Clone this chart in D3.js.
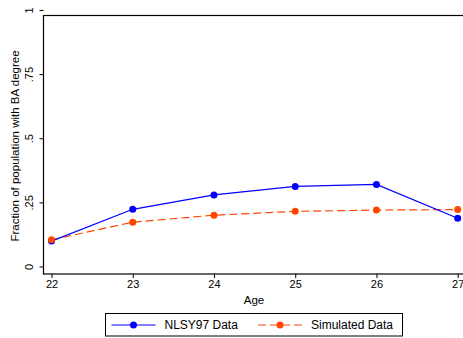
<!DOCTYPE html>
<html>
<head>
<meta charset="utf-8">
<script src="https://cdn.jsdelivr.net/npm/d3@7"></script>
<style>
  html, body { margin: 0; padding: 0; background: #fff; }
  svg { display: block; font-family: "Liberation Sans", Arial, sans-serif; }
</style>
</head>
<body>
<svg id="chart" width="463" height="338"></svg>
<script>
// Age grid and BA-completion fractions
const ages = [22, 23, 24, 25, 26, 27];
const nlsyValues = [0.099, 0.223, 0.279, 0.312, 0.320, 0.188];
const simValues = [0.104, 0.173, 0.200, 0.215, 0.220, 0.222];
const yTicks = [0, 0.25, 0.5, 0.75, 1];
const yTickLabels = ["0", ".25", ".5", ".75", "1"];
const seriesNames = ["NLSY97 Data", "Simulated Data"];

const svg = d3.select("#chart");
const blue = "#0000ff", orange = "#ff4500";

const x = d3.scaleLinear().domain([22, 27]).range([51.5, 457.7]);
const y = d3.scaleLinear().domain([0, 1]).range([266.5, 10]);

// plot frame
const frame = { left: 43.5, top: 15.5, right: 470, bottom: 274 };
svg.append("rect")
  .attr("x", frame.left).attr("y", frame.top)
  .attr("width", frame.right - frame.left).attr("height", frame.bottom - frame.top)
  .attr("fill", "none").attr("stroke", "#000").attr("stroke-width", 1.2);

// y axis
const yAxis = svg.append("g").attr("transform", `translate(${frame.left},0)`)
  .call(d3.axisLeft(y).tickValues(yTicks).tickSize(4).tickFormat((d, i) => yTickLabels[i]));
yAxis.select(".domain").remove();
yAxis.selectAll(".tick line").attr("stroke", "#000");
yAxis.selectAll(".tick text")
  .attr("font-size", 11).attr("fill", "#000")
  .attr("text-anchor", "middle").attr("x", 0).attr("dy", 0)
  .attr("transform", "translate(-13,0) rotate(-90)")
  .attr("dominant-baseline", "middle");

// x axis
const xAxis = svg.append("g").attr("transform", `translate(0,${frame.bottom})`)
  .call(d3.axisBottom(x).tickValues(ages).tickSize(4).tickFormat(d3.format("d")));
xAxis.select(".domain").remove();
xAxis.selectAll(".tick line").attr("stroke", "#000");
xAxis.selectAll(".tick text").attr("font-size", 11).attr("fill", "#000").attr("y", 6);

// axis titles
svg.append("text")
  .attr("transform", "translate(19,146) rotate(-90)")
  .attr("text-anchor", "middle").attr("font-size", 11.5).attr("fill", "#000")
  .text("Fraction of population with BA degree");
svg.append("text")
  .attr("x", 254).attr("y", 304)
  .attr("text-anchor", "middle").attr("font-size", 11.5).attr("fill", "#000")
  .text("Age");

// series
const line = d3.line().x((d, i) => x(ages[i])).y(d => y(d));

svg.append("path").datum(simValues)
  .attr("d", line).attr("fill", "none")
  .attr("stroke", orange).attr("stroke-width", 1.2).attr("stroke-dasharray", "8,4");
svg.append("path").datum(nlsyValues)
  .attr("d", line).attr("fill", "none")
  .attr("stroke", blue).attr("stroke-width", 1.2);

svg.selectAll(".pt-nlsy").data(nlsyValues).join("circle")
  .attr("cx", (d, i) => x(ages[i])).attr("cy", d => y(d)).attr("r", 3.5).attr("fill", blue);
svg.selectAll(".pt-sim").data(simValues).join("circle")
  .attr("cx", (d, i) => x(ages[i])).attr("cy", d => y(d)).attr("r", 3.5).attr("fill", orange);

// legend
const lg = svg.append("g");
lg.append("rect").attr("x", 105.5).attr("y", 313.5).attr("width", 297).attr("height", 22.5)
  .attr("fill", "#fff").attr("stroke", "#000").attr("stroke-width", 1);
const items = [
  { name: seriesNames[0], color: blue, dash: null, x0: 111.5 },
  { name: seriesNames[1], color: orange, dash: "8,4", x0: 258 }
];
items.forEach(it => {
  lg.append("line").attr("x1", it.x0).attr("x2", it.x0 + 44).attr("y1", 325).attr("y2", 325)
    .attr("stroke", it.color).attr("stroke-width", 1.2).attr("stroke-dasharray", it.dash);
  lg.append("circle").attr("cx", it.x0 + 22).attr("cy", 325).attr("r", 3.5).attr("fill", it.color);
  lg.append("text").attr("x", it.x0 + 53).attr("y", 329).attr("font-size", 12).attr("fill", "#000")
    .text(it.name);
});
</script>
</body>
</html>
